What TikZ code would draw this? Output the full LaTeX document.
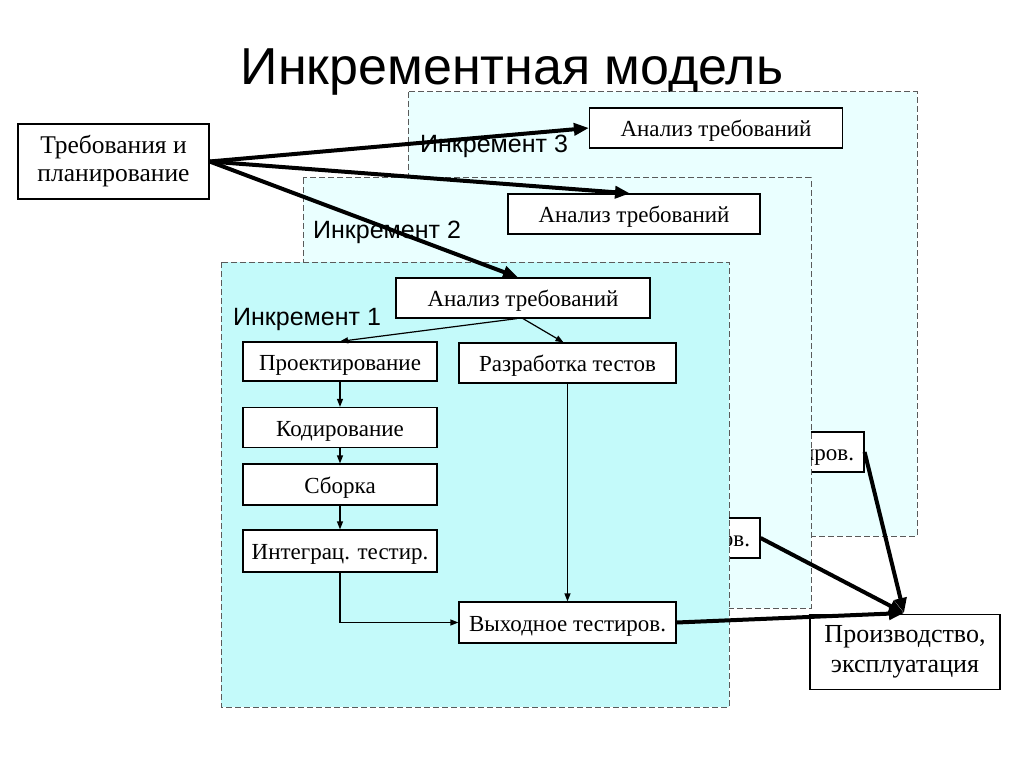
\documentclass[tikz,border=0pt]{standalone}
\usepackage{fontspec}
\setmainfont{Liberation Serif}
\newfontfamily\arialf{Liberation Sans}
\usetikzlibrary{arrows.meta,calc}
\definecolor{incdark}{RGB}{196,250,250}
\definecolor{inclight}{RGB}{234,255,255}
\definecolor{dashgray}{RGB}{90,90,90}
\tikzset{
  incbox/.style={draw=dashgray,line width=1pt,dash pattern=on 6pt off 3pt},
  stagebox/.style={draw=black,fill=white,line width=1.2pt,rectangle,inner sep=0pt,
    text height=17pt,text depth=0pt,font=\fontsize{23}{26}\selectfont},
  bigbox/.style={draw=black,fill=white,line width=1.2pt,rectangle,inner sep=0pt,align=center},
  inclabel/.style={anchor=base west,inner sep=0pt,font=\arialf\fontsize{25}{28}\selectfont},
  thinarrow/.style={line width=1.2pt,-{Triangle[length=8pt,width=6pt]}},
  thickarrow/.style={line width=4pt,-{Triangle[length=15pt,width=12pt]}}
}
\begin{document}
\begin{tikzpicture}[x=1pt,y=-1pt]
\useasboundingbox (0,0) rectangle (1024,767);
\fill[white] (0,0) rectangle (1024,767);
\node[anchor=base,inner sep=0pt,font=\arialf\fontsize{52}{60}\selectfont] (title) at (512,85) {Инкрементная модель};
% Increment 3
\filldraw[incbox,fill=inclight] (408,92) rectangle (917,536);
\node[inclabel] (l3) at (420,153) {Инкремент 3};
\node[stagebox,minimum width=253pt,minimum height=40pt] (a3) at (716,128) {Анализ требований};
\node[stagebox,minimum width=217pt,minimum height=40pt] (v3) at (755.5,452) {Выходное тестиров.};
% Increment 2
\filldraw[incbox,fill=inclight] (303,178) rectangle (811,608);
\node[inclabel] (l2) at (313,239) {Инкремент 2};
\node[stagebox,minimum width=252pt,minimum height=40pt] (a2) at (634,214) {Анализ требований};
\node[stagebox,minimum width=217pt,minimum height=40pt] (v2) at (651.5,538) {Выходное тестиров.};
% Increment 1
\filldraw[incbox,fill=incdark] (221,262) rectangle (729,707);
\node[inclabel] (l1) at (233,325) {Инкремент 1};
\node[stagebox,minimum width=254pt,minimum height=40pt] (a1) at (523,298) {Анализ требований};
\node[stagebox,minimum width=194pt,minimum height=39pt] (proj) at (340,361.5) {Проектирование};
\node[stagebox,minimum width=217pt,minimum height=40pt] (razr) at (567.5,363) {Разработка тестов};
\node[stagebox,minimum width=194pt,minimum height=40pt] (kod) at (340,427.5) {Кодирование};
\node[stagebox,minimum width=194pt,minimum height=41pt] (sb) at (340,484.5) {Сборка};
\node[stagebox,minimum width=194pt,minimum height=42pt] (integ) at (340,551) {Интеграц. тестир.};
\node[stagebox,minimum width=217pt,minimum height=41pt] (v1) at (567.5,622.5) {Выходное тестиров.};
% outer boxes
\node[bigbox,minimum width=191pt,minimum height=75pt,font=\fontsize{25.5}{28}\selectfont] (req) at (113.5,161.5) {Требования и\\планирование};
\node[bigbox,minimum width=190pt,minimum height=75pt,font=\fontsize{26}{30}\selectfont] (prod) at (905,652) {Производство,\\эксплуатация};
\coordinate (conv) at (904,613);
% thin arrows
\draw[thinarrow] ([xshift=-6pt]a1.south) -- (proj.north);
\draw[thinarrow] ([xshift=0pt]a1.south) -- ([xshift=-4pt]razr.north);
\draw[thinarrow] (proj.south) -- (kod.north);
\draw[thinarrow] (kod.south) -- (sb.north);
\draw[thinarrow] (sb.south) -- (integ.north);
\draw[thinarrow] (integ.south) |- (v1.west);
\draw[thinarrow] (razr.south) -- (v1.north);
% thick arrows
\draw[thickarrow] (req.east) -- (a3.west);
\draw[thickarrow] (req.east) -- ([xshift=-4pt]a2.north);
\draw[thickarrow] (req.east) -- ([xshift=-5pt]a1.north);
\draw[thickarrow] (v1.east) -- (conv);
\draw[thickarrow] (v2.east) -- (conv);
\draw[thickarrow] (v3.east) -- (conv);
\end{tikzpicture}
\end{document}
